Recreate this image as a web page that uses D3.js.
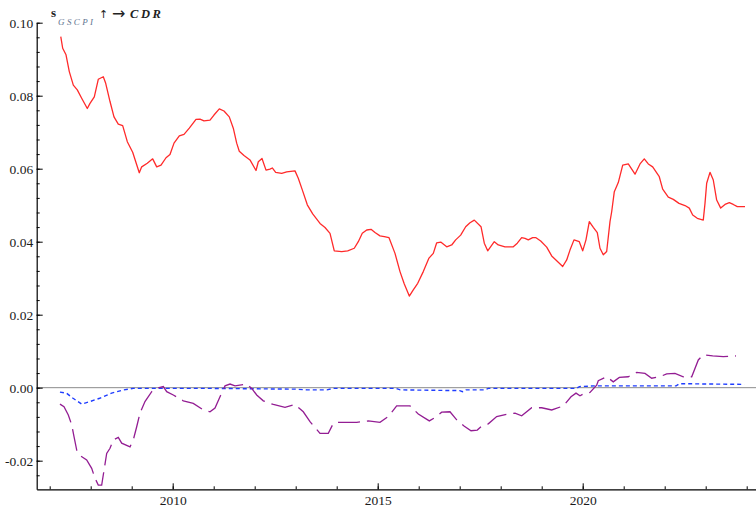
<!DOCTYPE html>
<html>
<head>
<meta charset="utf-8">
<script src="https://cdn.jsdelivr.net/npm/d3@7"></script>
<style>
  html, body { margin: 0; padding: 0; background: #fff; }
  svg { display: block; }
  .tick text { font-family: "Liberation Serif", "Times New Roman", serif; font-size: 13.5px; fill: #1a1a1a; }
</style>
</head>
<body>
<svg id="chart" width="756" height="510"></svg>
<script>
// Spillover of GSCPI shocks onto CDR: total (red), and two decomposed components
const redYears = [2007.27,2007.317,2007.398,2007.478,2007.576,2007.673,2007.78,2007.917,2007.983,2008.088,2008.185,2008.307,2008.366,2008.471,2008.568,2008.673,2008.78,2008.893,2009.024,2009.185,2009.244,2009.38,2009.512,2009.61,2009.715,2009.837,2009.934,2010.032,2010.161,2010.276,2010.405,2010.568,2010.666,2010.763,2010.91,2011.007,2011.137,2011.251,2011.38,2011.478,2011.561,2011.624,2011.739,2011.885,2012.032,2012.088,2012.178,2012.276,2012.373,2012.429,2012.512,2012.659,2012.78,2012.983,2013.063,2013.161,2013.283,2013.415,2013.593,2013.715,2013.837,2013.941,2014.122,2014.268,2014.429,2014.527,2014.624,2014.732,2014.837,2014.934,2015.056,2015.161,2015.276,2015.422,2015.544,2015.649,2015.771,2015.868,2015.976,2016.112,2016.251,2016.356,2016.439,2016.537,2016.683,2016.805,2016.902,2017.024,2017.146,2017.251,2017.356,2017.52,2017.6,2017.683,2017.844,2017.941,2018.105,2018.307,2018.405,2018.512,2018.593,2018.673,2018.78,2018.861,2018.976,2019.122,2019.244,2019.366,2019.512,2019.61,2019.69,2019.788,2019.917,2020.0,2020.08,2020.161,2020.259,2020.356,2020.422,2020.502,2020.585,2020.666,2020.707,2020.771,2020.868,2020.976,2021.112,2021.276,2021.398,2021.502,2021.6,2021.707,2021.868,2021.951,2022.088,2022.21,2022.349,2022.495,2022.6,2022.683,2022.795,2022.941,2022.983,2023.024,2023.105,2023.185,2023.268,2023.366,2023.471,2023.576,2023.673,2023.771,2023.959];
const redValues = [0.0962,0.0930,0.0912,0.0866,0.0829,0.0816,0.0793,0.0765,0.0779,0.0797,0.0845,0.0852,0.0834,0.0784,0.0742,0.0722,0.0718,0.0674,0.0645,0.0589,0.0605,0.0615,0.0627,0.0605,0.0610,0.0630,0.0639,0.0670,0.0690,0.0694,0.0711,0.0735,0.0736,0.0731,0.0733,0.0747,0.0764,0.0758,0.0742,0.0711,0.0670,0.0648,0.0636,0.0624,0.0595,0.0619,0.0628,0.0596,0.0599,0.0602,0.0590,0.0587,0.0591,0.0594,0.0574,0.0542,0.0501,0.0476,0.0450,0.0439,0.0423,0.0375,0.0373,0.0375,0.0382,0.0400,0.0423,0.0432,0.0434,0.0425,0.0416,0.0414,0.0411,0.0368,0.0318,0.0284,0.0251,0.0268,0.0286,0.0318,0.0355,0.0368,0.0397,0.0399,0.0386,0.0391,0.0405,0.0418,0.0441,0.0452,0.0459,0.0441,0.0396,0.0375,0.0400,0.0391,0.0386,0.0386,0.0396,0.0411,0.0409,0.0405,0.0411,0.0411,0.0402,0.0385,0.0361,0.0348,0.0332,0.0350,0.0377,0.0405,0.0400,0.0375,0.0405,0.0455,0.0439,0.0425,0.0382,0.0364,0.0373,0.0455,0.0482,0.0537,0.0562,0.0610,0.0613,0.0585,0.0613,0.0627,0.0613,0.0605,0.0578,0.0544,0.0522,0.0516,0.0505,0.0499,0.0492,0.0473,0.0464,0.0459,0.0505,0.0560,0.0590,0.0569,0.0514,0.0492,0.0502,0.0507,0.0502,0.0496,0.0496];

const purpleYears = [2007.25,2007.349,2007.454,2007.537,2007.593,2007.659,2007.739,2007.902,2008.024,2008.105,2008.185,2008.268,2008.39,2008.471,2008.551,2008.673,2008.756,2008.959,2009.039,2009.122,2009.202,2009.324,2009.488,2009.61,2009.771,2009.854,2010.015,2010.259,2010.502,2010.746,2010.91,2011.032,2011.154,2011.276,2011.398,2011.52,2011.805,2011.927,2012.049,2012.21,2012.454,2012.739,2012.983,2013.185,2013.349,2013.593,2013.795,2013.917,2014.039,2014.283,2014.488,2014.771,2015.056,2015.259,2015.463,2015.788,2015.99,2016.259,2016.439,2016.561,2016.763,2016.927,2017.105,2017.276,2017.429,2017.537,2017.698,2017.902,2018.185,2018.349,2018.512,2018.756,2019.0,2019.244,2019.527,2019.715,2019.837,2019.934,2020.056,2020.178,2020.341,2020.38,2020.585,2020.746,2020.893,2021.112,2021.317,2021.52,2021.683,2021.885,2022.049,2022.251,2022.454,2022.659,2022.82,2022.941,2023.171,2023.429,2023.739];
const purpleValues = [-0.0045,-0.0052,-0.0075,-0.0102,-0.0134,-0.0171,-0.0186,-0.0198,-0.0221,-0.0248,-0.0267,-0.0267,-0.0180,-0.0166,-0.0143,-0.0136,-0.0152,-0.0162,-0.0143,-0.0107,-0.0070,-0.0038,-0.0011,-0.0002,0.0003,-0.0011,-0.0020,-0.0036,-0.0043,-0.0061,-0.0066,-0.0056,-0.0025,0.0005,0.0010,0.0005,0.0010,-0.0002,-0.0020,-0.0036,-0.0046,-0.0054,-0.0046,-0.0066,-0.0093,-0.0125,-0.0125,-0.0098,-0.0095,-0.0095,-0.0095,-0.0091,-0.0095,-0.0079,-0.0050,-0.0050,-0.0072,-0.0091,-0.0079,-0.0067,-0.0066,-0.0088,-0.0105,-0.0118,-0.0116,-0.0105,-0.0099,-0.0079,-0.0072,-0.0070,-0.0077,-0.0055,-0.0055,-0.0061,-0.0050,-0.0025,-0.0015,-0.0022,-0.0015,-0.0013,0.0007,0.0019,0.0030,0.0016,0.0028,0.0030,0.0042,0.0039,0.0026,0.0030,0.0038,0.0039,0.0030,0.0030,0.0076,0.0090,0.0087,0.0085,0.0087];

const blueYears = [2007.25,2007.41,2007.57,2007.78,2007.98,2008.22,2008.51,2008.80,2009.04,2010.0,2011.0,2012.0,2013.0,2013.27,2013.76,2013.92,2015.45,2015.55,2017.0,2017.07,2017.15,2017.6,2017.7,2019.85,2019.92,2020.3,2022.28,2022.36,2023.94];
const blueValues = [-0.0012,-0.0015,-0.0029,-0.0045,-0.0038,-0.0029,-0.0015,-0.0006,-0.0002,-0.0002,-0.0002,-0.0003,-0.0004,-0.0006,-0.0006,-0.0002,-0.0002,-0.0006,-0.0008,-0.0011,-0.0006,-0.0006,-0.0002,-0.0002,0.0003,0.0005,0.0005,0.0011,0.0009];

const xMajorTicks = [2010, 2015, 2020];
const xMajorLabels = ["2010", "2015", "2020"];
const xMinorTicks = d3.range(2007, 2025);
const yMajorTicks = [-0.02, 0, 0.02, 0.04, 0.06, 0.08, 0.10];
const yMajorLabels = ["-0.02", "0.00", "0.02", "0.04", "0.06", "0.08", "0.10"];
const yMinorTicks = d3.range(-24, 101, 4).map(d => d / 1000);

const svg = d3.select("#chart");

const x = d3.scaleLinear().domain([2006.683, 2024.227]).range([36.7, 756]);
const y = d3.scaleLinear().domain([-0.02784, 0.1]).range([489.3, 22.7]);

// zero reference line
svg.append("line")
  .attr("x1", x.range()[0]).attr("x2", x.range()[1])
  .attr("y1", y(0)).attr("y2", y(0))
  .attr("stroke", "#8c8c8c").attr("stroke-width", 1);

// minor ticks
svg.append("g")
  .attr("transform", `translate(0,${y.range()[0]})`)
  .call(d3.axisBottom(x).tickValues(xMinorTicks).tickSizeInner(-3).tickSizeOuter(0).tickFormat(""))
  .call(g => g.select(".domain").remove());
svg.append("g")
  .attr("transform", `translate(${x.range()[0]},0)`)
  .call(d3.axisLeft(y).tickValues(yMinorTicks).tickSizeInner(-3).tickSizeOuter(0).tickFormat(""))
  .call(g => g.select(".domain").remove());

// major axes with labels
svg.append("g")
  .attr("transform", `translate(0,${y.range()[0]})`)
  .call(d3.axisBottom(x).tickValues(xMajorTicks).tickSizeInner(-6).tickSizeOuter(0)
    .tickPadding(6).tickFormat((d, i) => xMajorLabels[i]));
svg.append("g")
  .attr("transform", `translate(${x.range()[0]},0)`)
  .call(d3.axisLeft(y).tickValues(yMajorTicks).tickSizeInner(-6).tickSizeOuter(0)
    .tickPadding(3.5).tickFormat((d, i) => yMajorLabels[i]));

svg.selectAll(".domain").attr("stroke", "#000").attr("stroke-width", 1.2);
svg.selectAll(".tick line").attr("stroke", "#000");

const line = d3.line().x(d => x(d[0])).y(d => y(d[1]));

svg.append("path")
  .datum(d3.zip(blueYears, blueValues))
  .attr("d", line).attr("fill", "none")
  .attr("stroke", "#1f3dff").attr("stroke-width", 1.4)
  .attr("stroke-dasharray", "4,3");

svg.append("path")
  .datum(d3.zip(purpleYears, purpleValues))
  .attr("d", line).attr("fill", "none")
  .attr("stroke", "#931d93").attr("stroke-width", 1.3)
  .attr("stroke-dasharray", "22,7");

svg.append("path")
  .datum(d3.zip(redYears, redValues))
  .attr("d", line).attr("fill", "none")
  .attr("stroke", "#ff2a2a").attr("stroke-width", 1.3)
  .attr("stroke-linejoin", "round");

// title label
const title = svg.append("g").attr("font-family", "'Liberation Serif', 'Times New Roman', serif");
title.append("text").attr("x", 51).attr("y", 17)
  .attr("font-size", 13).attr("font-weight", "bold").attr("fill", "#222").text("s");
title.append("text").attr("x", 58).attr("y", 25)
  .attr("font-size", 9).attr("font-style", "italic").attr("letter-spacing", 2.4)
  .attr("fill", "#5f7590").text("GSCPI");
title.append("text").attr("x", 99).attr("y", 17.5)
  .attr("font-family", "'DejaVu Sans', sans-serif")
  .attr("font-size", 11).attr("fill", "#222").text("↑");
title.append("text").attr("x", 112).attr("y", 19)
  .attr("font-family", "'DejaVu Sans', sans-serif")
  .attr("font-size", 16).attr("fill", "#222").text("→");
title.append("text").attr("x", 130).attr("y", 18)
  .attr("font-size", 12.5).attr("font-weight", "bold").attr("font-style", "italic")
  .attr("letter-spacing", 2.6).attr("fill", "#222").text("CDR");
</script>
</body>
</html>
